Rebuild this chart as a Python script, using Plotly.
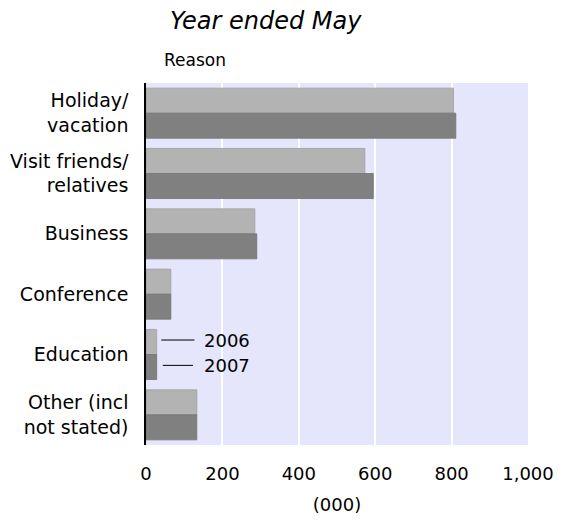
import plotly.graph_objects as go

reasons = ["Holiday/<br>vacation", "Visit friends/<br>relatives", "Business",
           "Conference", "Education", "Other (incl<br>not stated)"]
visitors_2006 = [805, 573, 285, 65, 28, 133]
visitors_2007 = [811, 595, 290, 65, 28, 133]
x_ticks = [0, 200, 400, 600, 800, 1000]
x_tick_text = ["0", "200", "400", "600", "800", "1,000"]

FONT = "DejaVu Sans, Verdana, sans-serif"
# page body has an 8px default margin, so the figure is 8px smaller than the window
W, H = 555, 512

fig = go.Figure()
fig.add_trace(go.Bar(y=reasons, x=visitors_2006, orientation="h", name="2006",
                     marker=dict(color="#b3b3b3", line=dict(color="#a0a0a0", width=0.8))))
fig.add_trace(go.Bar(y=reasons, x=visitors_2007, orientation="h", name="2007",
                     marker=dict(color="#808080", line=dict(color="#737373", width=0.8))))

# in-plot legend: short lines next to the Education bars
edu = reasons.index("Education")
for off, (x0, x1), label in [(-0.24, (40, 127), "2006"), (0.18, (44, 123), "2007")]:
    fig.add_shape(type="line", xref="x", yref="y", x0=x0, x1=x1, y0=edu + off, y1=edu + off,
                  line=dict(color="black", width=1))
    fig.add_annotation(x=146, y=edu + off, xref="x", yref="y", text=label, showarrow=False,
                       xanchor="left", yanchor="middle", font=dict(size=18, color="black"))

fig.add_annotation(x=0.043, y=1.0635, xref="paper", yref="paper", text="Reason", showarrow=False,
                   xanchor="left", yanchor="middle", font=dict(size=17, color="black"))

fig.update_layout(
    width=W, height=H,
    margin=dict(l=138, r=35, t=75, b=75),
    paper_bgcolor="white", plot_bgcolor="#e5e5fc",
    font=dict(family=FONT, color="black", size=18),
    barmode="group", bargap=0.17, bargroupgap=0,
    showlegend=False,
    title=dict(text="<i>Year ended May</i>", x=162 / W, xanchor="left", xref="container",
               y=1 - 13 / H, yanchor="middle", yref="container",
               font=dict(size=24, color="black", family=FONT)),
)
fig.update_xaxes(range=[0, 1000], tickvals=x_ticks, ticktext=x_tick_text, automargin=False,
                 showgrid=True, gridcolor="white", gridwidth=1.5, zeroline=False,
                 showline=False, ticks="", ticklabelstandoff=16,
                 tickfont=dict(size=18),
                 title=dict(text="(000)", font=dict(size=18), standoff=15))
fig.update_yaxes(categoryorder="array", categoryarray=reasons, autorange="reversed",
                 automargin=False,
                 showgrid=False, zeroline=False, showline=True, linecolor="black", linewidth=1.5,
                 ticks="", ticklabelstandoff=12, tickfont=dict(size=19))

fig.write_html("out.html")
